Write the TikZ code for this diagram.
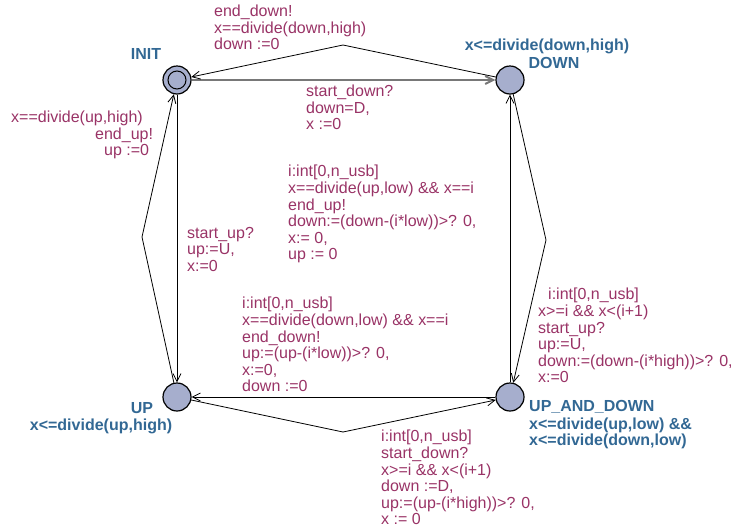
\documentclass[tikz,border=0pt]{standalone}
\usepackage{fontspec}
\setmainfont{Liberation Sans}
\usetikzlibrary{arrows.meta}
\definecolor{locfill}{RGB}{166,174,205}
\definecolor{locblue}{RGB}{50,104,148}
\definecolor{labpurple}{RGB}{153,51,102}
\definecolor{selgray}{RGB}{120,120,120}

\begin{document}
\begin{tikzpicture}[x=1pt,y=-1pt,font=\fontsize{16}{16.6}\selectfont,
 loc/.style={circle,draw,line width=1.2pt,fill=locfill,minimum size=28pt,inner sep=0pt},
 initloc/.style={loc,path picture={\draw[line width=1pt] (path picture bounding box.center) circle (9pt);}},
 locname/.style={text=locblue,font=\bfseries\fontsize{16}{15.5}\selectfont,inner sep=0pt},
 lab/.style={text=labpurple,align=left,inner sep=0pt,anchor=north west},
 arr/.style={-{Straight Barb[length=8pt,width=8pt]},line width=\edgewidth},
 ]
 \def\edgewidth{0.8pt}
 \useasboundingbox (0,0) rectangle (731,528);
 % locations
 \node[initloc] (init) at (177,80) {};
 \node[loc] (down) at (510,80) {};
 \node[loc] (up) at (177,397) {};
 \node[loc] (updown) at (510,397) {};
 \node[locname] (initname) at (146,54) {INIT};
 \node[locname] (downinv) at (547,46) {x<=divide(down,high)};
 \node[locname] (downname) at (554,63) {DOWN};
 \node[locname] (upname) at (142,408) {UP};
 \node[locname] (upinv) at (101,426) {x<=divide(up,high)};
 \node[locname,anchor=west] (updownname) at (529,407) {UP\_AND\_DOWN};
 \node[locname,anchor=north west,align=left] (updowninv) at (529,418)
  {x<=divide(up,low) \&\&\\x<=divide(down,low)};
 % nails of the bent edges
 \coordinate (bendtop) at (343,45);
 \coordinate (bendleft) at (142,237);
 \coordinate (bendright) at (546,240);
 \coordinate (bendbottom) at (343,432);
 % edges
 \draw[arr,draw=selgray,line width=2pt] (init) -- (down);
 \draw[arr] (down) -- (bendtop) -- (init);
 \draw[arr] (init) -- (up);
 \draw[arr] (up) -- (bendleft) -- (init);
 \draw[arr] (updown) -- (down);
 \draw[arr] (down) -- (bendright) -- (updown);
 \draw[arr] (updown) -- (up);
 \draw[arr] (up) -- (bendbottom) -- (updown);
 % edge labels
 \node[lab] (enddownlab) at (214,5) {end\_down!\\x==divide(down,high)\\down :=0};
 \node[lab] (startdownlab) at (306,85) {start\_down?\\down=D,\\x :=0};
 \node[lab] (enduplab) at (11,111)
  {x==divide(up,high)\\\hspace*{84pt}end\_up!\\\hspace*{93pt}up :=0};
 \node[lab] (startuplab) at (187,227) {start\_up?\\up:=U,\\x:=0};
 \node[lab] (endupilab) at (288,165) {i:int[0,n\_usb]\\x==divide(up,low) \&\& x==i\\end\_up!\\%
  down:=(down-(i*low))>? 0,\\x:= 0,\\up := 0};
 \node[lab] (enddownilab) at (242,297) {i:int[0,n\_usb]\\x==divide(down,low) \&\& x==i\\end\_down!\\%
  up:=(up-(i*low))>? 0,\\x:=0,\\down :=0};
 \node[lab] (startupilab) at (538,288) {\hspace*{10pt}i:int[0,n\_usb]\\x>=i \&\& x<(i+1)\\start\_up?\\%
  up:=U,\\down:=(down-(i*high))>? 0,\\x:=0};
 \node[lab] (startdownilab) at (381,430) {i:int[0,n\_usb]\\start\_down?\\x>=i \&\& x<(i+1)\\%
  down :=D,\\up:=(up-(i*high))>? 0,\\x := 0};
\end{tikzpicture}
\end{document}
